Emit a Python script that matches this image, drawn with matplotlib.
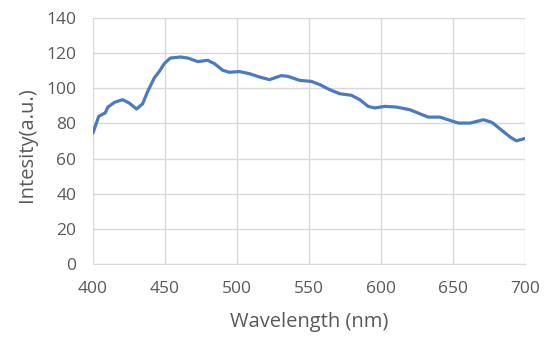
import matplotlib
matplotlib.use("Agg")
import matplotlib.pyplot as plt

wavelength = [400, 404, 408.5, 410.4, 415, 420.6, 425.2, 430.3, 434.5, 438, 442.6, 446.1,
              449.5, 453.7, 461, 465.8, 472.8, 479.7, 484.4, 490.2, 494.8, 501.8, 508.7,
              515.7, 522.6, 530.7, 535.4, 543.5, 551.7, 557.5, 564.4, 571.4, 579.5, 585.3,
              591.1, 595.7, 602.7, 610.8, 620, 627, 632.8, 641, 648, 653.8, 662, 671.2,
              677, 682.8, 689.8, 694, 700]
intensity = [74.5, 84, 86, 89.3, 92, 93.5, 91.6, 88.2, 91.2, 98.2, 105.9, 109.6,
             114, 117.2, 117.8, 117.2, 115.2, 115.9, 114, 110.2, 109.1, 109.5, 108.3,
             106.4, 104.9, 107.2, 106.8, 104.5, 103.9, 102.1, 99.2, 96.9, 96, 93.5,
             89.7, 88.8, 89.7, 89.3, 87.8, 85.5, 83.6, 83.6, 81.7, 80.2, 80.2, 82.1,
             80.6, 76.8, 72.2, 70.1, 71.4]

x_ticks = [400, 450, 500, 550, 600, 650, 700]
y_ticks = [0, 20, 40, 60, 80, 100, 120, 140]

plt.rcParams['font.family'] = ['Open Sans', 'DejaVu Sans']

fig = plt.figure(figsize=(5.5, 3.44), dpi=100)
ax = fig.add_axes([0.169, 0.2326, 0.7855, 0.7151])
ax.plot(wavelength, intensity, color='#4A7BC0', linewidth=2.3, solid_capstyle='round',
        solid_joinstyle='round')
ax.set_xlim(400, 700)
ax.set_ylim(0, 140)
ax.set_xticks(x_ticks)
ax.set_yticks(y_ticks)
ax.grid(True, color='#D9D9D9', linewidth=1.0)
ax.set_axisbelow(True)
for s in ['top', 'right', 'left']:
    ax.spines[s].set_visible(False)
ax.spines['bottom'].set_color('#D9D9D9')
ax.tick_params(length=0, labelsize=12.5, colors='#595959', pad=12)
ax.set_xlabel('Wavelength (nm)', fontsize=14.5, color='#595959', va='center')
ax.set_ylabel('Intesity(a.u.)', fontsize=14.5, color='#595959', va='center')
ax.xaxis.set_label_coords(0.5, -0.236)
ax.yaxis.set_label_coords(-0.153, 0.485)
fig.savefig('out.png', dpi=100, facecolor='white')
